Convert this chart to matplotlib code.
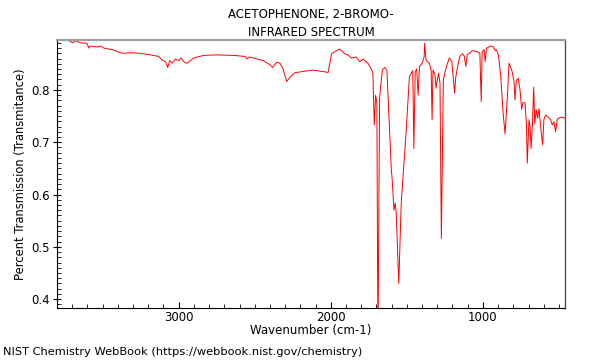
import matplotlib
matplotlib.use("Agg")
import matplotlib.pyplot as plt
from matplotlib.ticker import MultipleLocator

# spectrum (wavenumber cm-1, transmittance)
wavenumber = [3800, 3731, 3698, 3676, 3644, 3604, 3589, 3583, 3534, 3513,
              3491, 3436, 3371, 3316, 3251, 3185, 3131, 3109, 3087, 3072,
              3059, 3043, 3022, 3000, 2984, 2963, 2945, 2902, 2836, 2749,
              2640, 2563, 2552, 2535, 2443, 2399, 2382, 2356, 2334, 2316,
              2290, 2269, 2236, 2116, 2028, 2018, 1995, 1952, 1941, 1908,
              1887, 1864, 1832, 1810, 1788, 1756, 1733, 1723, 1714, 1705,
              1697, 1690, 1679, 1661, 1646, 1631, 1602, 1596, 1585, 1576,
              1570, 1553, 1537, 1504, 1483, 1461, 1454, 1445, 1435, 1426,
              1417, 1399, 1386, 1383, 1374, 1352, 1340, 1334, 1328, 1315,
              1308, 1302, 1291, 1282, 1273, 1260, 1243, 1221, 1204, 1195,
              1186, 1178, 1160, 1151, 1134, 1123, 1112, 1103, 1086, 1069,
              1036, 1020, 1011, 1005, 992, 985, 976, 948, 933, 919,
              911, 898, 882, 867, 854, 839, 828, 810, 795, 789,
              780, 767, 756, 745, 736, 723, 714, 708, 697, 690,
              683, 675, 666, 659, 649, 640, 631, 618, 607, 599,
              588, 570, 555, 544, 533, 522, 511, 489, 456]
transmittance = [0.894, 0.896, 0.890, 0.894, 0.890, 0.889, 0.880, 0.884, 0.882, 0.884,
                 0.880, 0.877, 0.870, 0.871, 0.870, 0.867, 0.864, 0.857, 0.854, 0.843,
                 0.856, 0.851, 0.859, 0.856, 0.861, 0.853, 0.851, 0.861, 0.866, 0.867,
                 0.866, 0.864, 0.859, 0.863, 0.856, 0.848, 0.843, 0.853, 0.851, 0.842,
                 0.816, 0.824, 0.833, 0.838, 0.834, 0.833, 0.869, 0.877, 0.878, 0.869,
                 0.867, 0.861, 0.863, 0.854, 0.859, 0.851, 0.840, 0.832, 0.733, 0.790,
                 0.775, 0.300, 0.787, 0.838, 0.843, 0.838, 0.647, 0.628, 0.570, 0.584,
                 0.565, 0.430, 0.583, 0.723, 0.825, 0.837, 0.688, 0.835, 0.840, 0.790,
                 0.845, 0.851, 0.864, 0.889, 0.857, 0.851, 0.838, 0.743, 0.838, 0.829,
                 0.803, 0.816, 0.832, 0.813, 0.516, 0.819, 0.841, 0.861, 0.854, 0.825,
                 0.794, 0.825, 0.854, 0.864, 0.869, 0.865, 0.845, 0.867, 0.871, 0.875,
                 0.873, 0.870, 0.778, 0.873, 0.877, 0.854, 0.880, 0.884, 0.883, 0.875,
                 0.877, 0.867, 0.825, 0.755, 0.716, 0.787, 0.851, 0.838, 0.816, 0.781,
                 0.819, 0.822, 0.800, 0.763, 0.776, 0.775, 0.736, 0.660, 0.743, 0.730,
                 0.688, 0.730, 0.805, 0.736, 0.762, 0.746, 0.764, 0.723, 0.695, 0.743,
                 0.752, 0.748, 0.743, 0.733, 0.739, 0.720, 0.744, 0.748, 0.746]

title = "ACETOPHENONE, 2-BROMO-\nINFRARED SPECTRUM"

fig = plt.figure(figsize=(6, 3.6), dpi=100)
ax = fig.add_axes([0.095, 0.1444, 0.8467, 0.7453])

ax.plot(wavenumber, transmittance, color="red", linewidth=0.7)
ax.set_xlim(3800, 460)
ax.set_ylim(0.383, 0.896)

ax.set_title(title, fontsize=8.5, linespacing=1.5, pad=3)
ax.set_xlabel("Wavenumber (cm-1)", fontsize=8.5, labelpad=0)
ax.set_ylabel("Percent Transmission (Transmitance)", fontsize=8.3, labelpad=3)

ax.xaxis.set_major_locator(MultipleLocator(1000))
ax.xaxis.set_minor_locator(MultipleLocator(100))
ax.yaxis.set_major_locator(MultipleLocator(0.1))
ax.yaxis.set_minor_locator(MultipleLocator(0.01))
ax.tick_params(which="major", direction="inout", length=6, width=0.8, labelsize=8.5, pad=2)
ax.tick_params(axis="x", which="major", direction="in", length=4, pad=2.5)
ax.tick_params(which="minor", direction="in", length=3, width=0.6)

ax.spines["top"].set_color("#a0a0a0")
ax.spines["top"].set_linewidth(1.6)
ax.spines["right"].set_color("#505050")
ax.spines["right"].set_linewidth(1.0)

fig.text(0.005, 0.022, "NIST Chemistry WebBook (https://webbook.nist.gov/chemistry)",
         fontsize=8.2, va="center")

fig.savefig("out.png", dpi=100)
